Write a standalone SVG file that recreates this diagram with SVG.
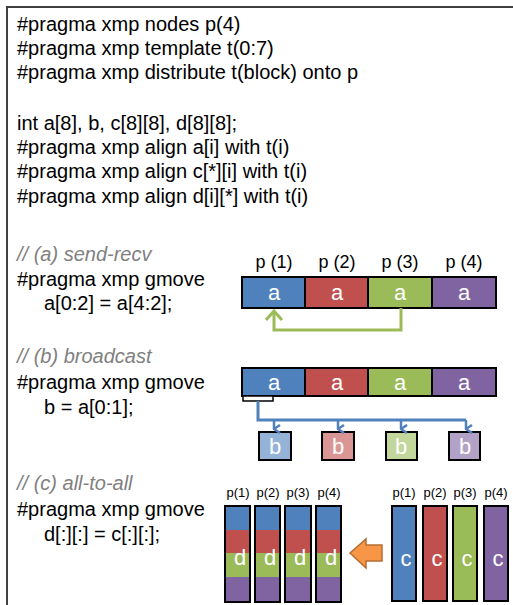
<svg xmlns="http://www.w3.org/2000/svg" width="513" height="605" viewBox="0 0 513 605">
<defs>
<style>
.code{font-family:"Liberation Sans",Arial,sans-serif;font-size:20px;fill:#000}
.cmt{font-family:"Liberation Sans",Arial,sans-serif;font-size:20px;font-style:italic;fill:#808080}
.pl{font-family:"Liberation Sans",Arial,sans-serif;font-size:18px;fill:#000;text-anchor:middle}
.ps{font-family:"Liberation Sans",Arial,sans-serif;font-size:13px;fill:#000;text-anchor:middle}
.w{font-family:"Liberation Sans",Arial,sans-serif;font-size:22px;fill:#fff;text-anchor:middle}
.cell{stroke:#000;stroke-width:2}
.bl{fill:#4F81BD}.rd{fill:#C0504D}.gr{fill:#9BBB59}.pu{fill:#8064A2}
.lbl{fill:#95B3D7}.lrd{fill:#D99694}.lgr{fill:#C3D69B}.lpu{fill:#B3A2C7}
</style>
<marker id="ah" viewBox="0 0 10 10" refX="5" refY="9" markerWidth="10" markerHeight="10" markerUnits="userSpaceOnUse" orient="auto-start-reverse">
<path d="M1,3 L5,9 L9,3" fill="none" stroke="#4F81BD" stroke-width="2.5"/>
</marker>
</defs>
<rect x="7" y="7" width="520" height="620" fill="#fff" stroke="#404040" stroke-width="2"/>
<g id="code">
<text class="code" x="17" y="31">#pragma xmp nodes p(4)</text>
<text class="code" x="17" y="55">#pragma xmp template t(0:7)</text>
<text class="code" x="17" y="79" textLength="341" lengthAdjust="spacing">#pragma xmp distribute t(block) onto p</text>
<text class="code" x="17" y="130">int a[8], b, c[8][8], d[8][8];</text>
<text class="code" x="17" y="154">#pragma xmp align a[i] with t(i)</text>
<text class="code" x="17" y="178">#pragma xmp align c[*][i] with t(i)</text>
<text class="code" x="17" y="203">#pragma xmp align d[i][*] with t(i)</text>
<text class="cmt" x="17" y="261">// (a) send-recv</text>
<text class="code" x="17" y="286">#pragma xmp gmove</text>
<text class="code" x="44" y="310">a[0:2] = a[4:2];</text>
<text class="cmt" x="17" y="363">// (b) broadcast</text>
<text class="code" x="17" y="389">#pragma xmp gmove</text>
<text class="code" x="44" y="414">b = a[0:1];</text>
<text class="cmt" x="17" y="490">// (c) all-to-all</text>
<text class="code" x="17" y="516">#pragma xmp gmove</text>
<text class="code" x="44" y="541">d[:][:] = c[:][:];</text>
</g>
<g id="sendrecv">
<text class="pl" x="274" y="268">p (1)</text>
<text class="pl" x="337" y="268">p (2)</text>
<text class="pl" x="400" y="268">p (3)</text>
<text class="pl" x="464" y="268">p (4)</text>
<rect class="cell bl" x="242" y="277" width="63" height="31"/>
<rect class="cell rd" x="305" y="277" width="63" height="31"/>
<rect class="cell gr" x="368" y="277" width="64" height="31"/>
<rect class="cell pu" x="432" y="277" width="64" height="31"/>
<text class="w" x="274" y="300">a</text>
<text class="w" x="337" y="300">a</text>
<text class="w" x="400" y="300">a</text>
<text class="w" x="464" y="300">a</text>
</g>
<g id="broadcast">
<rect class="cell bl" x="242" y="368" width="63" height="28"/>
<rect class="cell rd" x="305" y="368" width="63" height="28"/>
<rect class="cell gr" x="368" y="368" width="64" height="28"/>
<rect class="cell pu" x="432" y="368" width="64" height="28"/>
<text class="w" x="274" y="390">a</text>
<text class="w" x="337" y="390">a</text>
<text class="w" x="400" y="390">a</text>
<text class="w" x="464" y="390">a</text>
<rect x="243" y="396" width="30" height="5" fill="#fff" stroke="#000" stroke-width="1.5"/>
<rect class="cell lbl" x="259" y="432" width="32" height="28"/>
<rect class="cell lrd" x="322" y="432" width="32" height="28"/>
<rect class="cell lgr" x="386" y="432" width="31" height="28"/>
<rect class="cell lpu" x="449" y="432" width="31" height="28"/>
<text class="w" x="275" y="454">b</text>
<text class="w" x="338" y="454">b</text>
<text class="w" x="401" y="454">b</text>
<text class="w" x="465" y="454">b</text>
</g>
<g id="alltoall">
<text class="ps" x="238" y="497">p(1)</text>
<text class="ps" x="268" y="497">p(2)</text>
<text class="ps" x="298" y="497">p(3)</text>
<text class="ps" x="329" y="497">p(4)</text>
<g id="dcols">
<rect class="bl" x="225" y="506" width="25" height="24"/><rect class="rd" x="225" y="530" width="25" height="23"/><rect class="gr" x="225" y="553" width="25" height="24"/><rect class="pu" x="225" y="577" width="25" height="25"/>
<rect class="bl" x="255" y="506" width="25" height="24"/><rect class="rd" x="255" y="530" width="25" height="23"/><rect class="gr" x="255" y="553" width="25" height="24"/><rect class="pu" x="255" y="577" width="25" height="25"/>
<rect class="bl" x="285" y="506" width="26" height="24"/><rect class="rd" x="285" y="530" width="26" height="23"/><rect class="gr" x="285" y="553" width="26" height="24"/><rect class="pu" x="285" y="577" width="26" height="25"/>
<rect class="bl" x="316" y="506" width="25" height="24"/><rect class="rd" x="316" y="530" width="25" height="23"/><rect class="gr" x="316" y="553" width="25" height="24"/><rect class="pu" x="316" y="577" width="25" height="25"/>
<rect x="225" y="506" width="25" height="96" fill="none" stroke="#000" stroke-width="2"/>
<rect x="255" y="506" width="25" height="96" fill="none" stroke="#000" stroke-width="2"/>
<rect x="285" y="506" width="26" height="96" fill="none" stroke="#000" stroke-width="2"/>
<rect x="316" y="506" width="25" height="96" fill="none" stroke="#000" stroke-width="2"/>
<text class="w" x="240" y="565" font-size="22">d</text>
<text class="w" x="270" y="565" font-size="22">d</text>
<text class="w" x="300" y="565" font-size="22">d</text>
<text class="w" x="331" y="565" font-size="22">d</text>
</g>
<text class="ps" x="404" y="497">p(1)</text>
<text class="ps" x="435" y="497">p(2)</text>
<text class="ps" x="465" y="497">p(3)</text>
<text class="ps" x="496" y="497">p(4)</text>
<rect class="cell bl" x="392" y="506" width="24" height="95"/>
<rect class="cell rd" x="423" y="506" width="24" height="95"/>
<rect class="cell gr" x="453" y="506" width="24" height="95"/>
<rect class="cell pu" x="484" y="506" width="24" height="95"/>
<text class="w" x="406" y="566" font-size="24">c</text>
<text class="w" x="437" y="566" font-size="24">c</text>
<text class="w" x="467" y="566" font-size="24">c</text>
<text class="w" x="498" y="566" font-size="24">c</text>
<path d="M350,553 L366,539 L366,545 L382,545 L382,561 L366,561 L366,568 Z" fill="#F79646" stroke="#B66D31" stroke-width="1.5"/>
</g>
<g id="connectors">
<path d="M401,308 V330 H274 V312" fill="none" stroke="#9BBB59" stroke-width="3"/>
<path d="M266,320 L274,311 L282,320" fill="none" stroke="#9BBB59" stroke-width="3"/>
<path d="M258,401 V420 H466" fill="none" stroke="#4F81BD" stroke-width="3"/>
<path d="M274,420 V429" fill="none" stroke="#4F81BD" stroke-width="2.5" marker-end="url(#ah)"/>
<path d="M338,420 V429" fill="none" stroke="#4F81BD" stroke-width="2.5" marker-end="url(#ah)"/>
<path d="M401,420 V429" fill="none" stroke="#4F81BD" stroke-width="2.5" marker-end="url(#ah)"/>
<path d="M466,420 V429" fill="none" stroke="#4F81BD" stroke-width="2.5" marker-end="url(#ah)"/>
</g>
</svg>
